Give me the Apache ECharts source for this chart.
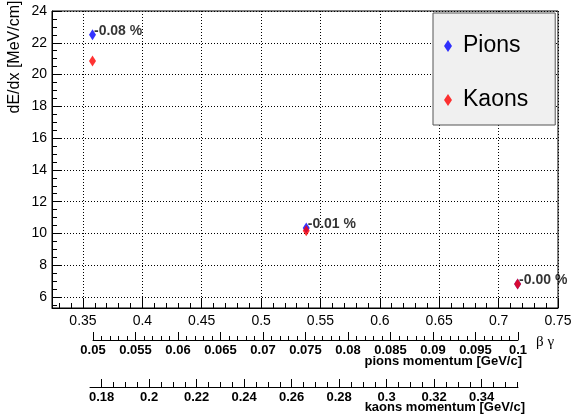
<!DOCTYPE html>
<html>
<head>
<meta charset="utf-8">
<script src="https://cdn.jsdelivr.net/npm/echarts@6/dist/echarts.min.js"></script>
<style>
  html, body { margin: 0; padding: 0; background: #fff; }
  #dedx { width: 572px; height: 415px; }
</style>
</head>
<body>
<div id="dedx"></div>
<script>
// values
const betaGamma = [0.358, 0.538, 0.716];
const pionsDedx = [22.5, 10.35, 6.82];
const kaonsDedx = [20.85, 10.17, 6.82];
const diffLabels = ['-0.08 %', '-0.01 %', '-0.00 %'];

// tick labels
const xTicks = [0.35, 0.4, 0.45, 0.5, 0.55, 0.6, 0.65, 0.7, 0.75];
const yTicks = [6, 8, 10, 12, 14, 16, 18, 20, 22, 24];
const kaonTicks = [0.18, 0.2, 0.22, 0.24, 0.26, 0.28, 0.3, 0.32, 0.34];

// minor tick positions
function steps(from, to, step) {
  let out = [];
  for (let v = from; v <= to + 1e-9; v += step) {
    out.push(Math.round(v * 10000) / 10000);
  }
  return out;
}
const xMinor = steps(0.33, 0.75, 0.01);
const yMinor = steps(5.5, 24, 0.5);
const kaonMinor = steps(0.18, 0.355, 0.005);

const FONT = '"Liberation Sans", Arial, Helvetica, sans-serif';

let myChart = echarts.init(document.getElementById('dedx'));

function minorAxis(gridIndex, min, max, values, pos) {
  return {
    type: 'value', gridIndex: gridIndex, min: min, max: max, position: pos,
    axisLine: {show: false, onZero: false},
    axisLabel: {show: false},
    splitLine: {show: false},
    axisTick: {show: true, inside: true, length: 5, customValues: values, lineStyle: {color: '#000'}}
  }
}

let option = {
  animation: false,
  backgroundColor: '#fff',
  textStyle: {fontFamily: FONT, color: '#000'},
  grid: [
    {left: 52, right: 14, top: 11, bottom: 107, show: true, borderColor: '#000', borderWidth: 1,
      backgroundColor: '#fff', outerBoundsMode: 'none'},
    {left: 93, right: 54, top: 339, height: 1, outerBoundsMode: 'none'},
    {left: 90, right: 54, top: 386, height: 1, outerBoundsMode: 'none'}
  ],
  legend: {
    data: ['Pions', 'Kaons'],
    orient: 'vertical',
    left: 433,
    top: 13,
    padding: [20, 27, 12, 11],
    itemGap: 28,
    itemWidth: 8,
    itemHeight: 12,
    backgroundColor: '#f0f0f0',
    borderColor: '#555',
    borderWidth: 1,
    textStyle: {fontSize: 23, color: '#000', fontFamily: FONT, lineHeight: 26, padding: [0, 0, 0, 6]}
  },
  graphic: [
    {
      type: 'text', x: 15, y: 57, rotation: Math.PI / 2,
      style: {text: 'dE/dx [MeV/cm]', fontSize: 16, fontFamily: FONT, fill: '#000',
        align: 'center', verticalAlign: 'middle'}
    }
  ],
  xAxis: [
    {
      type: 'value', gridIndex: 0, min: 0.3239, max: 0.75, position: 'bottom',
      axisLine: {onZero: false, lineStyle: {color: '#000'}},
      axisTick: {inside: true, length: 10, customValues: xTicks, lineStyle: {color: '#000'}},
      axisLabel: {customValues: xTicks, margin: 6, fontSize: 14, color: '#000', fontFamily: FONT},
      splitLine: {show: true, lineStyle: {color: '#000', type: [1, 2], width: 1}},
      name: 'β γ',
      nameLocation: 'end',
      nameGap: -22,
      nameMoveOverlap: false,
      nameTextStyle: {fontSize: 15, fontFamily: '"Liberation Serif", serif', color: '#000',
        align: 'left', verticalAlign: 'top', padding: [27, 0, 0, 0]}
    },
    minorAxis(0, 0.3239, 0.75, xMinor, 'bottom'),
    {
      type: 'value', gridIndex: 1, min: 0.05, max: 0.1, interval: 0.005, position: 'bottom',
      axisLine: {onZero: false, lineStyle: {color: '#000'}},
      axisTick: {inside: true, length: 8, lineStyle: {color: '#000'}},
      minorTick: {show: true, splitNumber: 5, length: 4, lineStyle: {color: '#000'}},
      axisLabel: {margin: 4, fontSize: 13, fontWeight: 'bold', color: '#000', fontFamily: FONT},
      splitLine: {show: false},
      name: 'pions momentum [GeV/c]',
      nameLocation: 'end',
      nameGap: 4,
      nameMoveOverlap: false,
      nameTextStyle: {fontSize: 13, fontWeight: 'bold', fontFamily: FONT, color: '#000',
        align: 'right', verticalAlign: 'top', padding: [15, 0, 0, 0]}
    },
    {
      type: 'value', gridIndex: 2, min: 0.1751, max: 0.3553, position: 'bottom',
      axisLine: {onZero: false, lineStyle: {color: '#000'}},
      axisTick: {inside: true, length: 8, customValues: kaonTicks, lineStyle: {color: '#000'}},
      axisLabel: {customValues: kaonTicks, margin: 4, fontSize: 13, fontWeight: 'bold', color: '#000', fontFamily: FONT},
      splitLine: {show: false},
      name: 'kaons momentum [GeV/c]',
      nameLocation: 'end',
      nameGap: 7,
      nameMoveOverlap: false,
      nameTextStyle: {fontSize: 13, fontWeight: 'bold', fontFamily: FONT, color: '#000',
        align: 'right', verticalAlign: 'top', padding: [14, 0, 0, 0]}
    },
    minorAxis(2, 0.1751, 0.3553, kaonMinor, 'bottom')
  ],
  yAxis: [
    {
      type: 'value', gridIndex: 0, min: 5.31, max: 24, position: 'left',
      axisLine: {onZero: false, lineStyle: {color: '#000'}},
      axisTick: {inside: true, length: 9, customValues: yTicks, lineStyle: {color: '#000'}},
      axisLabel: {customValues: yTicks, margin: 5, fontSize: 14, color: '#000', fontFamily: FONT},
      splitLine: {show: true, lineStyle: {color: '#000', type: [1, 2], width: 1}}
    },
    minorAxis(0, 5.31, 24, yMinor, 'left'),
    {type: 'value', gridIndex: 1, min: 0, max: 1, show: false},
    {type: 'value', gridIndex: 2, min: 0, max: 1, show: false}
  ],
  series: [
    {
      name: 'Pions',
      type: 'scatter',
      xAxisIndex: 0,
      yAxisIndex: 0,
      symbol: 'diamond',
      symbolSize: [7, 11],
      itemStyle: {color: '#0000ff'},
      data: betaGamma.map((x, i) => [x, pionsDedx[i]]),
      label: {
        show: true,
        position: 'right',
        distance: -2,
        offset: [0, -4],
        formatter: p => diffLabels[p.dataIndex],
        fontSize: 14,
        fontWeight: 'bold',
        color: '#000',
        fontFamily: FONT
      }
    },
    {
      name: 'Kaons',
      type: 'scatter',
      xAxisIndex: 0,
      yAxisIndex: 0,
      symbol: 'diamond',
      symbolSize: [7, 11],
      itemStyle: {color: '#ff0000'},
      data: betaGamma.map((x, i) => [x, kaonsDedx[i]])
    }
  ]
};
myChart.setOption(option);
</script>
</body>
</html>
